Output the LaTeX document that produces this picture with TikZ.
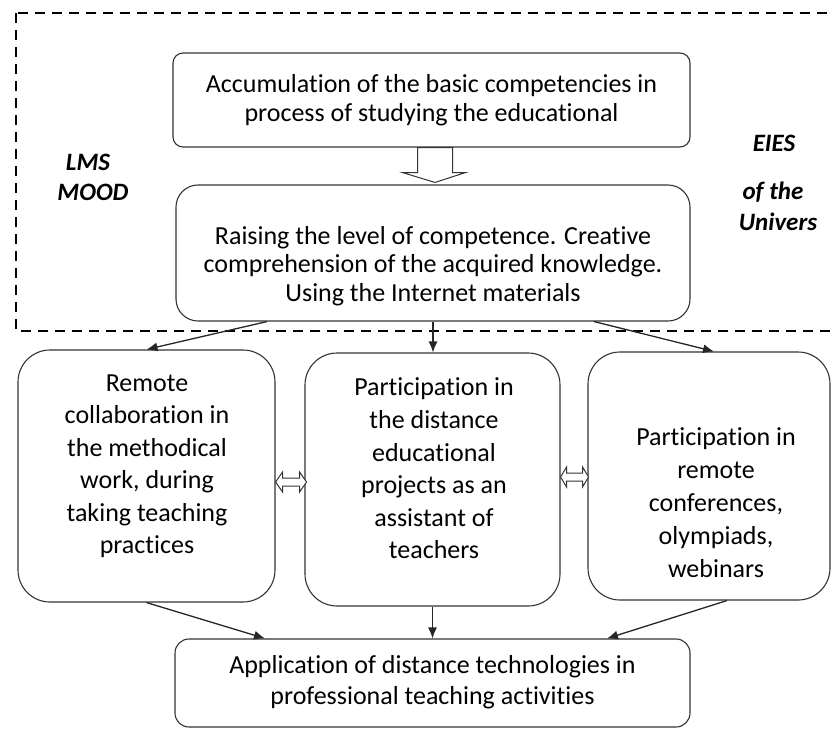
\documentclass[tikz,border=0pt]{standalone}
\usepackage{fontspec}
\setmainfont{Carlito}[Ligatures=NoCommon]
\usetikzlibrary{arrows.meta,calc}

\begin{document}
\begin{tikzpicture}[x=1pt,y=-1pt,
    box/.style={draw=black!80,line width=1.1pt,rounded corners=#1,inner sep=0pt},
    box/.default=10pt,
    txt/.style={align=center,font=\fontsize{26}{#1}\selectfont},
    txt/.default=28.5,
    side/.style={font=\fontsize{25}{28}\selectfont\bfseries\itshape},
    arr/.style={draw=black!85,line width=1.3pt,-{Latex[length=11pt,width=9pt]}},
    link/.style={draw=black!80,line width=1pt,fill=white}]
    \useasboundingbox (0,0) rectangle (832,729);

    % pole LMS / EIES
    \draw[line width=2.2pt,dash pattern=on 10pt off 7pt] (16,13) rectangle (860,331);
    \node[side] (lms)  at (88,162)  {LMS};
    \node[side] (mood) at (93,192)  {MOOD};
    \node[side] (eies) at (774,143) {EIES};
    \node[side] (ofth) at (773,192) {of the};
    \node[side] (univ) at (778,222) {Univers};

    % verkhnie bloki
    \node[box,minimum width=517pt,minimum height=94pt,txt] (accum) at (431.5,100)
        {Accumulation of the basic competencies in\\process of studying the educational};
    \node[box=22pt,minimum width=514pt,minimum height=136pt] (raise) at (433,253) {};
    \node[txt] (raisetxt) at (433,266)
        {Raising the level of competence. Creative\\comprehension of the acquired knowledge.\\Using the Internet materials};

    % shirokaya strelka
    \draw[link]
        ($(accum.south)+(-14,0)$) -- ($(accum.south)+(21,0)$) -- ($(accum.south)+(21,25)$)
        -- ($(accum.south)+(34,25)$) -- ($(raise.north)+(2,-2)$) -- ($(accum.south)+(-29,25)$)
        -- ($(accum.south)+(-14,25)$) -- cycle;

    % tri bloka
    \node[box=32pt,minimum width=257pt,minimum height=252pt] (remote) at (146.5,476) {};
    \node[txt=32.5] at (147,466)
        {Remote\\collaboration in\\the methodical\\work, during\\taking teaching\\practices};
    \node[box=32pt,minimum width=255pt,minimum height=253pt] (partic) at (432.5,479.5) {};
    \node[txt=32.6] at (434,468.5)
        {Participation in\\the distance\\educational\\projects as an\\assistant of\\teachers};
    \node[box=32pt,minimum width=242pt,minimum height=248pt] (conf) at (709,476) {};
    \node[txt=33] at (716,503)
        {Participation in\\remote\\conferences,\\olympiads,\\webinars};

    % nizhnii blok
    \node[box=14pt,minimum width=515pt,minimum height=88pt] (apply) at (432.5,683) {};
    \node[txt=31] at (432.5,682.5)
        {Application of distance technologies in\\professional teaching activities};

    % dvoinye strelki
    \coordinate (lk1) at ($(remote.east)+(0,6)$);
    \draw[link] (lk1) -- ++(7,-10) -- ++(0,6) -- ++(17,0) -- ++(0,-6) -- ++(7,10)
        -- ++(-7,10) -- ++(0,-6) -- ++(-17,0) -- ++(0,6) -- cycle;
    \coordinate (lk2) at ($(partic.east)+(0,-2.5)$);
    \draw[link] (lk2) -- ++(6,-10) -- ++(0,6) -- ++(16,0) -- ++(0,-6) -- ++(6,10)
        -- ++(-6,10) -- ++(0,-6) -- ++(-16,0) -- ++(0,6) -- cycle;

    \draw[arr] ([xshift=-166pt]raise.south) -- (remote.north);
    \draw[arr] (raise.south) -- (raise.south |- partic.north);
    \draw[arr] ([xshift=161pt]raise.south) -- ([xshift=5pt]conf.north);
    \draw[arr] (remote.south) -- ([xshift=-167.5pt]apply.north);
    \draw[arr] (partic.south) -- (apply.north);
    \draw[arr] ([xshift=18pt]conf.south) -- ([xshift=174.5pt]apply.north);
\end{tikzpicture}
\end{document}
